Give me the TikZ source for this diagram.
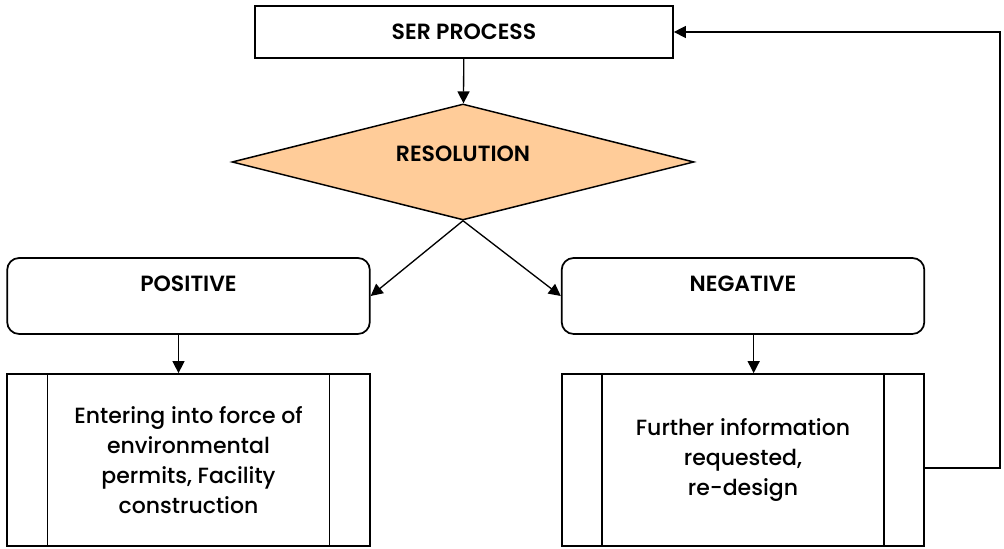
\documentclass[tikz,border=0pt]{standalone}
\usepackage{fontspec}
\setmainfont{Poppins}[UprightFont={* Medium}, BoldFont={* SemiBold}]
\usetikzlibrary{arrows.meta,shapes.geometric}

\begin{document}
\begin{tikzpicture}[x=0.75pt, y=0.75pt, line join=miter, >={Triangle[length=9pt,width=9pt]},
  head/.style={font=\fontsize{16.5}{20}\selectfont\bfseries},
  body/.style={font=\fontsize{16.5}{22.5}\selectfont, align=center},
  sharpbox/.style={draw, line width=1.3pt, inner sep=0pt},
  roundbox/.style={sharpbox, rounded corners=9pt, minimum width=272pt, minimum height=57pt, text depth=18pt},
  procbox/.style={sharpbox, minimum width=272pt, minimum height=129pt},
  decision/.style={draw, diamond, aspect=4, line width=1.1pt, fill=orange!40!white, inner sep=0pt,
    minimum width=346.5pt, minimum height=87pt},
  flow/.style={->, line width=1pt}]
  \useasboundingbox (0,0) rectangle (1004,549);

  % Top of the chart: process and decision
  \node[sharpbox, head, minimum width=313.5pt, minimum height=39pt] (ser) at (464,517) {SER PROCESS};
  \node[decision, head] (res) at (463,387) {\raisebox{0pt}[0pt][0pt]{RESOLUTION}};

  % The two outcomes
  \node[roundbox, head] (pos) at (188.5,253) {POSITIVE};
  \node[roundbox, head] (neg) at (743,253) {NEGATIVE};

  % Predefined-process boxes below them
  \node[procbox, body] (posact) at (188.5,89) {Entering into force of\\environmental\\permits, Facility\\construction};
  \node[procbox, body] (negact) at (743,89) {Further information\\requested,\\re-design};
  \foreach \b in {posact,negact} {
    \draw[line width=1.1pt] ([xshift=31pt]\b.north west) -- ([xshift=31pt]\b.south west);
    \draw[line width=1.1pt] ([xshift=-31pt]\b.north east) -- ([xshift=-31pt]\b.south east);
  }

  % Connectors
  \draw[flow] (ser) -- (res);
  \draw[flow] (res.south) -- (pos.east);
  \draw[flow] (res.south) -- (neg.west);
  \draw[flow] ([xshift=-7.5pt]pos.south) -- ([xshift=-7.5pt]posact.north);
  \draw[flow] ([xshift=8pt]neg.south) -- ([xshift=8pt]negact.north);

  % Loop back for re-design
  \coordinate (back) at (1000,81);
  \draw[flow] (negact.east |- back) -- (back) |- (ser.east);
\end{tikzpicture}
\end{document}
